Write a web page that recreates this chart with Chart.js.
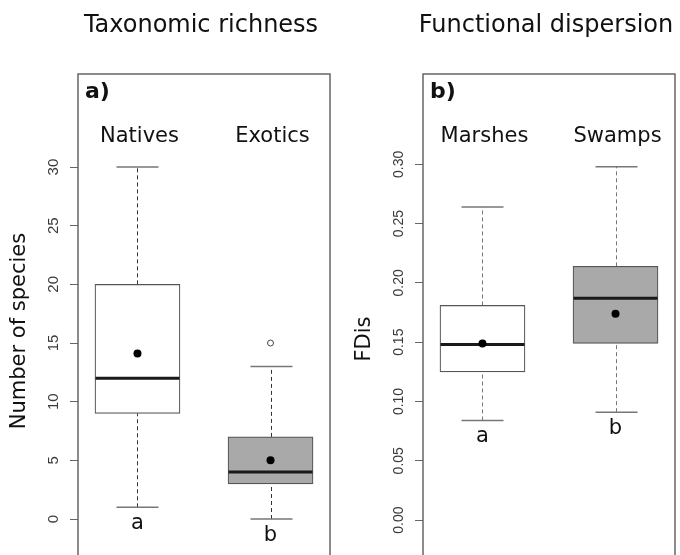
<!DOCTYPE html>
<html>
<head>
<meta charset="utf-8">
<script src="https://cdn.jsdelivr.net/npm/chart.js@4/dist/chart.umd.min.js"></script>
<style>
  html, body { margin: 0; padding: 0; background: #fff; }
  #wrap { width: 680px; height: 555px; overflow: hidden; position: relative; }
  #chartA { position: absolute; left: 0; top: 0; }
  #chartB { position: absolute; left: 340px; top: 0; }
</style>
</head>
<body>
<div id="wrap">
  <!-- canvases run past the bottom edge: the plot frames are cut off like in the original -->
  <canvas id="chartA" width="340" height="593"></canvas>
  <canvas id="chartB" width="340" height="608"></canvas>
</div>
<script>
// panel a) taxonomic richness
const groupsA = ['Natives', 'Exotics'];
const lettersA = ['a', 'b'];
const whiskLowA = [1, 0];
const q1A = [9, 3];
const medianA = [12, 4];
const q3A = [20, 7];
const whiskHighA = [30, 13];
const meanA = [14.1, 5];
const outliersA = [[], [15]];
const ticksA = [0, 5, 10, 15, 20, 25, 30];

// panel b) functional dispersion
const groupsB = ['Marshes', 'Swamps'];
const lettersB = ['a', 'b'];
const whiskLowB = [0.084, 0.091];
const q1B = [0.125, 0.149];
const medianB = [0.148, 0.187];
const q3B = [0.181, 0.214];
const whiskHighB = [0.264, 0.298];
const meanB = [0.149, 0.174];
const outliersB = [[], []];
const ticksB = [0, 0.05, 0.10, 0.15, 0.20, 0.25, 0.30];

const boxFill = ['#ffffff', '#a9a9a9'];

const boxPlugin = {
    id: 'boxParts',
    beforeDatasetsDraw(chart) {
        const p = chart.options.plugins.boxParts;
        const {ctx, chartArea: a} = chart;
        const x = chart.scales.x, y = chart.scales.y;
        ctx.save();
        // frame
        ctx.strokeStyle = '#666';
        ctx.lineWidth = 1.5;
        ctx.strokeRect(a.left, a.top, a.right - a.left, a.bottom - a.top);
        for (let i = 0; i < p.groups.length; i++) {
            const cx = Math.round(x.getPixelForValue(i + 1)) + 0.5;
            // dashed whiskers
            ctx.setLineDash([4, 3]);
            ctx.strokeStyle = p.whiskColor;
            ctx.lineWidth = 1;
            ctx.beginPath();
            ctx.moveTo(cx, y.getPixelForValue(p.low[i]));
            ctx.lineTo(cx, y.getPixelForValue(p.q1[i]));
            ctx.moveTo(cx, y.getPixelForValue(p.q3[i]));
            ctx.lineTo(cx, y.getPixelForValue(p.high[i]));
            ctx.stroke();
            // caps
            ctx.setLineDash([]);
            ctx.strokeStyle = '#777';
            ctx.lineWidth = 1.5;
            ctx.beginPath();
            [p.low[i], p.high[i]].forEach(v => {
                const py = y.getPixelForValue(v);
                ctx.moveTo(cx - 21, py);
                ctx.lineTo(cx + 21, py);
            });
            ctx.stroke();
        }
        ctx.restore();
    },
    afterDatasetDraw(chart, args) {
        if (args.index !== 0) return;
        const p = chart.options.plugins.boxParts;
        const {ctx} = chart;
        const x = chart.scales.x, y = chart.scales.y;
        ctx.save();
        ctx.strokeStyle = '#1a1a1a';
        ctx.lineWidth = 3;
        ctx.beginPath();
        for (let i = 0; i < p.groups.length; i++) {
            const cx = x.getPixelForValue(i + 1);
            const py = y.getPixelForValue(p.median[i]);
            ctx.moveTo(cx - 42, py);
            ctx.lineTo(cx + 42, py);
        }
        ctx.stroke();
        ctx.restore();
    },
    afterDraw(chart) {
        const p = chart.options.plugins.boxParts;
        const {ctx, chartArea: a} = chart;
        const x = chart.scales.x, y = chart.scales.y;
        ctx.save();
        ctx.fillStyle = '#111';
        ctx.textAlign = 'center';
        ctx.textBaseline = 'alphabetic';
        ctx.font = '24px "DejaVu Sans"';
        ctx.fillText(p.title, (a.left + a.right) / 2 - 3, 32);
        ctx.font = '21px "DejaVu Sans"';
        for (let i = 0; i < p.groups.length; i++) {
            const cx = x.getPixelForValue(i + 1);
            ctx.fillText(p.groups[i], cx + 2, a.top + 68);
            ctx.fillText(p.letters[i], cx, y.getPixelForValue(p.low[i]) + 22);
        }
        ctx.textAlign = 'left';
        ctx.font = 'bold 22px "DejaVu Sans"';
        ctx.fillText(p.tag, a.left + 7, a.top + 24);
        ctx.restore();
    }
};

function makeChart(id, d) {
    const ctx = document.getElementById(id).getContext('2d');
    return new Chart(ctx, {
        type: 'bar',
        data: {
            datasets: [
                {
                    label: 'box',
                    order: 2,
                    data: d.groups.map((g, i) => ({x: i + 1, y: [d.q1[i], d.q3[i]]})),
                    backgroundColor: boxFill,
                    borderColor: '#555',
                    borderWidth: 1.2,
                    borderSkipped: false,
                    barThickness: 85
                },
                {
                    type: 'scatter',
                    label: 'mean',
                    order: 1,
                    data: d.groups.map((g, i) => ({x: i + 1, y: d.mean[i]})),
                    pointRadius: 4,
                    pointBackgroundColor: '#000',
                    pointBorderWidth: 0
                },
                {
                    type: 'scatter',
                    label: 'outliers',
                    order: 1,
                    data: d.outliers.flatMap((arr, i) => arr.map(v => ({x: i + 1, y: v}))),
                    pointRadius: 3,
                    pointBackgroundColor: '#fff',
                    pointBorderColor: '#444',
                    pointBorderWidth: 1
                }
            ]
        },
        options: {
            responsive: false,
            animation: false,
            layout: {padding: {top: 74, right: d.padRight, left: 0, bottom: 0}},
            scales: {
                x: {type: 'linear', offset: false, min: 0.553, max: 2.447, display: false},
                y: {
                    min: d.yMin,
                    max: d.yMax,
                    afterFit: s => {
                        s.width = d.axisWidth;
                        s.paddingTop = 0;
                        s.paddingBottom = 0;
                    },
                    afterBuildTicks: s => { s.ticks = d.ticks.map(v => ({value: v})); },
                    grid: {drawOnChartArea: false, drawTicks: true, tickLength: 8, color: '#666', lineWidth: 1},
                    border: {display: false},
                    ticks: {
                        autoSkip: false,
                        minRotation: 90,
                        maxRotation: 90,
                        crossAlign: 'center',
                        padding: d.tickPad,
                        color: '#3a3a3a',
                        font: {family: '"Liberation Sans"', size: d.tickSize},
                        callback: d.fmt
                    },
                    title: {
                        display: true,
                        text: d.yTitle,
                        color: '#111',
                        font: {family: '"DejaVu Sans"', size: 21},
                        padding: {top: d.titlePad}
                    }
                }
            },
            plugins: {
                legend: {display: false},
                tooltip: {enabled: false},
                boxParts: {
                    title: d.title, tag: d.tag, groups: d.groups, letters: d.letters,
                    low: d.low, q1: d.q1, median: d.median, q3: d.q3, high: d.high,
                    whiskColor: d.whiskColor
                }
            }
        },
        plugins: [boxPlugin]
    });
}

makeChart('chartA', {
    title: 'Taxonomic richness', tag: 'a)', yTitle: 'Number of species',
    groups: groupsA, letters: lettersA, low: whiskLowA, q1: q1A, median: medianA,
    q3: q3A, high: whiskHighA, mean: meanA, outliers: outliersA, ticks: ticksA,
    yMin: -5.88, yMax: 37.93, padRight: 10, axisWidth: 78, tickPad: 8, tickSize: 15,
    titlePad: 7, whiskColor: '#333', fmt: v => String(v)
});

makeChart('chartB', {
    title: 'Functional dispersion', tag: 'b)', yTitle: 'FDis',
    groups: groupsB, letters: lettersB, low: whiskLowB, q1: q1B, median: medianB,
    q3: q3B, high: whiskHighB, mean: meanB, outliers: outliersB, ticks: ticksB,
    yMin: -0.0708, yMax: 0.3762, padRight: 5, axisWidth: 83, tickPad: 2, tickSize: 14,
    titlePad: 12, whiskColor: '#777', fmt: v => Number(v).toFixed(2)
});
</script>
</body>
</html>
